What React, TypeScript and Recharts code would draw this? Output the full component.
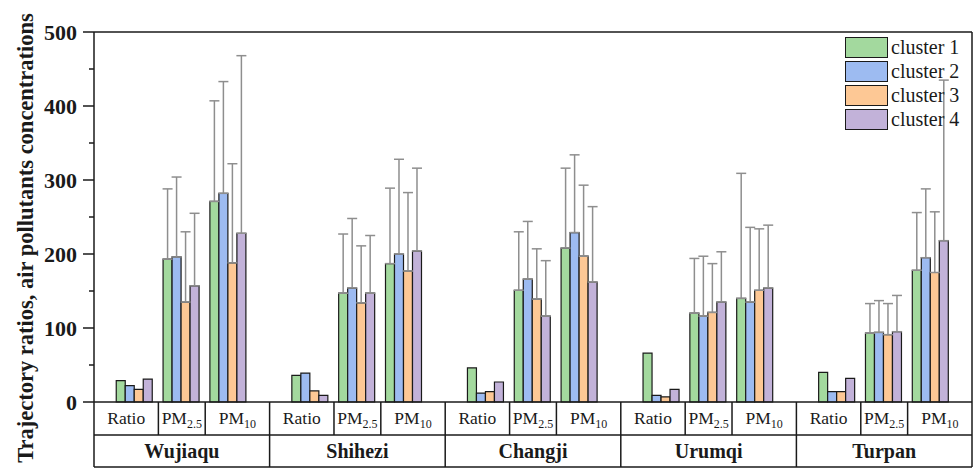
import React from "react";
import { BarChart, Bar, XAxis, YAxis, ErrorBar, ReferenceLine } from "recharts";

const CITIES = ["Wujiaqu", "Shihezi", "Changji", "Urumqi", "Turpan"];
const METRICS = ["Ratio", "PM2.5", "PM10"];
const Y_TICKS = [0, 50, 100, 150, 200, 250, 300, 350, 400, 450, 500];

// order: per city -> Ratio, PM2.5, PM10
const CLUSTER1 = [29, 193, 271, 36, 147, 187, 46, 151, 208, 66, 120, 140, 40, 93, 178];
const CLUSTER1_SD = [null, 95, 136, null, 80, 102, null, 79, 108, null, 74, 169, null, 40, 78];
const CLUSTER2 = [22, 196, 282, 39, 154, 200, 12, 166, 229, 9, 116, 135, 14, 94, 195];
const CLUSTER2_SD = [null, 108, 151, null, 94, 128, null, 78, 105, null, 81, 101, null, 43, 93];
const CLUSTER3 = [17, 135, 188, 15, 134, 177, 14, 139, 197, 7, 121, 151, 14, 91, 175];
const CLUSTER3_SD = [null, 95, 134, null, 77, 106, null, 68, 96, null, 66, 83, null, 42, 82];
const CLUSTER4 = [31, 157, 228, 9, 147, 204, 27, 116, 162, 17, 135, 154, 32, 95, 218];
const CLUSTER4_SD = [null, 98, 240, null, 78, 112, null, 75, 102, null, 68, 85, null, 49, 217];

const SERIES = [
  { key: "c1", name: "cluster 1", color: "#a3d99e", values: CLUSTER1, sd: CLUSTER1_SD },
  { key: "c2", name: "cluster 2", color: "#9dbbf1", values: CLUSTER2, sd: CLUSTER2_SD },
  { key: "c3", name: "cluster 3", color: "#fdc895", values: CLUSTER3, sd: CLUSTER3_SD },
  { key: "c4", name: "cluster 4", color: "#c2b2d9", values: CLUSTER4, sd: CLUSTER4_SD },
];

// each city takes 3 group slots plus a gap
const CITY_SPAN = 3.75;
const FIRST = 0.875;
const X_MAX = CITIES.length * CITY_SPAN;

const FONT = "'Liberation Serif', 'Times New Roman', serif";
const INK = "#1a1a1a";

const data = CITIES.flatMap((city, c) =>
  METRICS.map((metric, m) => {
    const i = c * METRICS.length + m;
    const row: any = { x: c * CITY_SPAN + FIRST + m, city, metric };
    SERIES.forEach(s => {
      row[s.key] = s.values[i];
      row[s.key + "e"] = s.sd[i] == null ? undefined : [0, s.sd[i]];
    });
    return row;
  })
);

// table cells under the axis: boundaries + a label in the middle of each cell
const subBounds = [
  ...CITIES.flatMap((_, c) => [c * CITY_SPAN, c * CITY_SPAN + FIRST + 0.5, c * CITY_SPAN + FIRST + 1.5]),
  X_MAX,
];
const subLabel = new Map<string, string>();
const subMids = subBounds.slice(1).map((b, i) => {
  const mid = (b + subBounds[i]) / 2;
  subLabel.set(mid.toFixed(4), METRICS[i % METRICS.length]);
  return mid;
});
const subTicks = [...subBounds, ...subMids];

const cityLabel = new Map<string, string>();
CITIES.forEach((city, c) => cityLabel.set((c * CITY_SPAN + CITY_SPAN / 2).toFixed(4), city));
const cityTicks = [
  ...CITIES.map((_, c) => c * CITY_SPAN),
  X_MAX,
  ...CITIES.map((_, c) => c * CITY_SPAN + CITY_SPAN / 2),
];

const textStyle = { fontFamily: FONT };

const SubTick = (props: any) => {
  const { x, y, payload } = props;
  const label = subLabel.get(Number(payload.value).toFixed(4));
  if (!label) return <line x1={x} x2={x} y1={y} y2={y + 33} stroke={INK} strokeWidth={1.5} />;
  const pm = label.startsWith("PM");
  return (
    <text x={x} y={y + 22} textAnchor="middle" style={textStyle} fontSize={17.5} fill={INK}>
      {pm ? (
        <>
          <tspan>PM</tspan>
          <tspan fontSize={12} dy={4}>{label.slice(2)}</tspan>
        </>
      ) : label}
    </text>
  );
};

const CityTick = (props: any) => {
  const { x, y, payload } = props;
  const label = cityLabel.get(Number(payload.value).toFixed(4));
  if (!label) return <line x1={x} x2={x} y1={y} y2={y + 32} stroke={INK} strokeWidth={1.5} />;
  return (
    <text x={x} y={y + 23} textAnchor="middle" style={textStyle} fontWeight="bold" fontSize={20} fill={INK}>
      {label}
    </text>
  );
};

const YTick = (props: any) => {
  const { x, y, payload } = props;
  const major = payload.value % 100 === 0;
  return (
    <g>
      <line x1={x - (major ? 11 : 5)} x2={x} y1={y} y2={y} stroke={INK} strokeWidth={1.5} />
      {major && (
        <text x={x - 17} y={y + 7.5} textAnchor="end" style={textStyle} fontWeight="bold" fontSize={22} fill={INK}>
          {payload.value}
        </text>
      )}
    </g>
  );
};

const YTitle = () => (
  <text
    x={33}
    y={238}
    transform="rotate(-90 33 238)"
    textAnchor="middle"
    style={textStyle}
    fontWeight="bold"
    fontSize={22.5}
    fill={INK}
  >
    Trajectory ratios, air pollutants concentrations
  </text>
);

function LegendBox() {
  return (
    <div style={{ position: "absolute", left: 845, top: 35, fontFamily: FONT }}>
      {SERIES.map(s => (
        <div key={s.key} style={{ display: "flex", alignItems: "center", height: 24 }}>
          <div style={{ width: 43, height: 21, boxSizing: "border-box", background: s.color, border: `1.5px solid ${INK}` }} />
          <span style={{ marginLeft: 3, fontSize: 20, lineHeight: "21px", color: INK }}>{s.name}</span>
        </div>
      ))}
    </div>
  );
}

export default function App() {
  return (
    <div style={{ position: "absolute", left: 0, top: 0, width: 976, height: 471, background: "#fff" }}>
      <BarChart
        width={976}
        height={471}
        data={data}
        margin={{ top: 32, right: 4, bottom: 0, left: 0 }}
        barGap={0}
        barCategoryGap="10%"
      >
        <XAxis
          xAxisId="x1"
          dataKey="x"
          type="number"
          domain={[0, X_MAX]}
          allowDataOverflow
          ticks={subTicks}
          interval={0}
          height={33}
          tick={<SubTick />}
          tickLine={false}
          tickSize={0}
          tickMargin={0}
          axisLine={{ stroke: INK, strokeWidth: 1.5 }}
        />
        <XAxis
          xAxisId="x2"
          dataKey="x"
          type="number"
          domain={[0, X_MAX]}
          allowDataOverflow
          ticks={cityTicks}
          interval={0}
          height={32}
          tick={<CityTick />}
          tickLine={false}
          tickSize={0}
          tickMargin={0}
          axisLine={{ stroke: INK, strokeWidth: 1.5 }}
        />
        <XAxis
          xAxisId="x3"
          dataKey="x"
          type="number"
          domain={[0, X_MAX]}
          allowDataOverflow
          height={4}
          tick={false}
          tickLine={false}
          axisLine={{ stroke: INK, strokeWidth: 1.5 }}
        />
        <YAxis
          type="number"
          domain={[0, 500]}
          ticks={Y_TICKS}
          interval={0}
          width={94}
          tick={<YTick />}
          tickLine={false}
          tickSize={0}
          tickMargin={0}
          axisLine={{ stroke: INK, strokeWidth: 1.5 }}
          label={<YTitle />}
        />
        <ReferenceLine xAxisId="x1" y={500} stroke={INK} strokeWidth={1.5} />
        <ReferenceLine xAxisId="x1" x={X_MAX} stroke={INK} strokeWidth={1.5} />
        {SERIES.map(s => (
          <Bar
            key={s.key}
            xAxisId="x1"
            dataKey={s.key}
            name={s.name}
            fill={s.color}
            stroke={INK}
            strokeWidth={1.2}
            isAnimationActive={false}
          >
            <ErrorBar
              dataKey={s.key + "e"}
              direction="y"
              width={5}
              stroke="#8e8e8e"
              strokeWidth={1.5}
              isAnimationActive={false}
            />
          </Bar>
        ))}
      </BarChart>
      <LegendBox />
    </div>
  );
}
